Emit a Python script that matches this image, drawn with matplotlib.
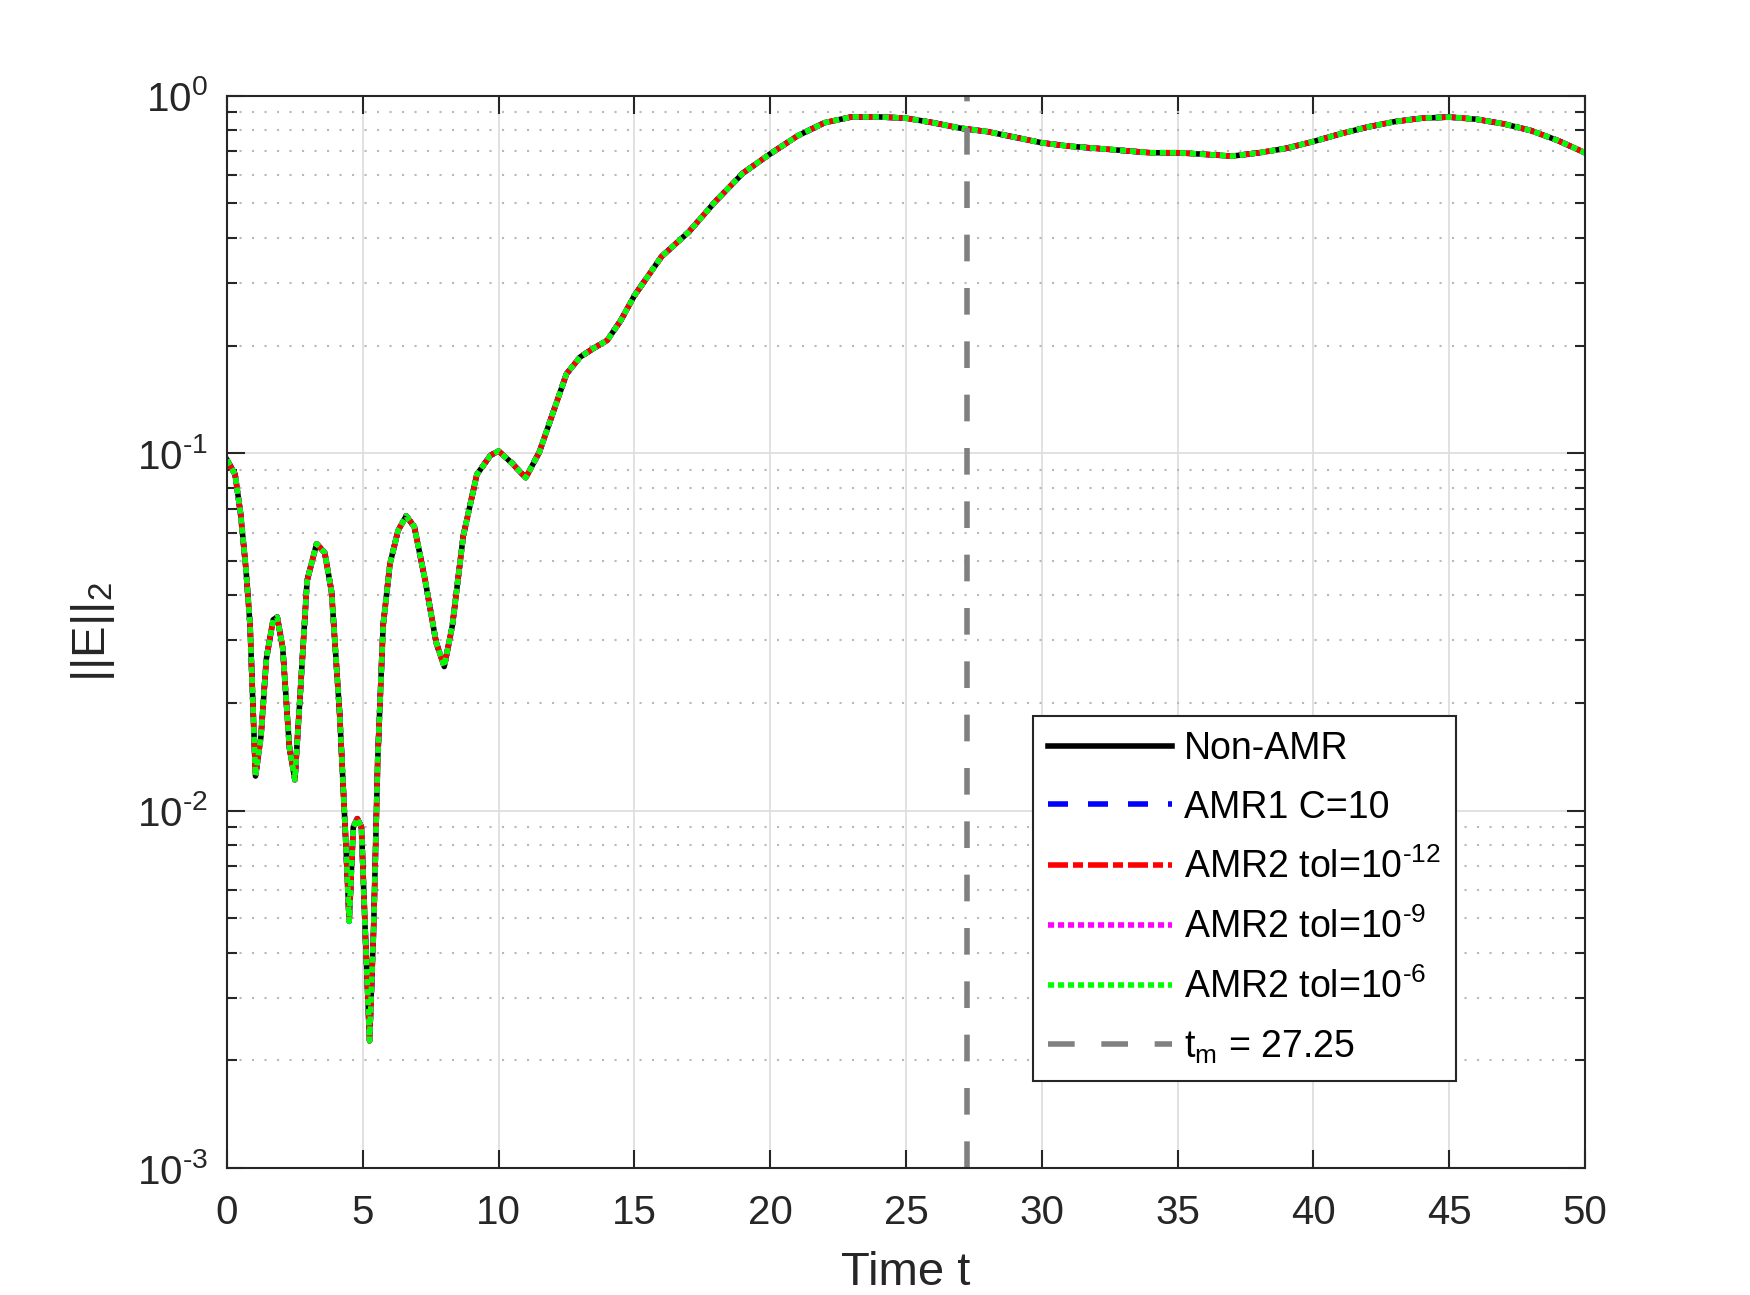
import numpy as np
import matplotlib
matplotlib.use("Agg")
import matplotlib.pyplot as plt
from matplotlib.ticker import LogLocator, FixedLocator, FixedFormatter, NullFormatter

plt.rcParams['font.family'] = ['Liberation Sans', 'DejaVu Sans']
plt.rcParams['mathtext.fontset'] = 'custom'
plt.rcParams['mathtext.rm'] = 'Liberation Sans'
plt.rcParams['mathtext.it'] = 'Liberation Sans'
plt.rcParams['axes.unicode_minus'] = False

# E-Norm über Zeit (alle Verfahren liegen aufeinander)
t = [0.0, 0.3, 0.5, 0.7, 0.85, 1.05, 1.25, 1.45, 1.7, 1.85, 2.05, 2.3, 2.5, 2.7, 2.95,
     3.3, 3.6, 3.85, 4.15, 4.35, 4.5, 4.65, 4.8, 4.95, 5.1, 5.25, 5.4, 5.55, 5.75, 6.0,
     6.3, 6.6, 6.9, 7.3, 7.7, 8.0, 8.3, 8.7, 9.2, 9.7, 10.0, 10.5, 11.0, 11.5, 12.0,
     12.5, 13.0, 13.5, 14.0, 14.5, 15.0, 16.0, 17.0, 18.0, 19.0, 20.0, 21.0, 22.0, 23.0,
     24.0, 25.0, 26.0, 27.0, 28.0, 29.0, 30.0, 31.0, 32.0, 33.0, 34.0, 35.0, 36.0, 37.0,
     38.0, 39.0, 40.0, 41.0, 42.0, 43.0, 44.0, 45.0, 46.0, 47.0, 48.0, 49.0, 50.0]
E = [0.0958, 0.0872, 0.0678, 0.0473, 0.033, 0.0125, 0.0161, 0.0266, 0.0342, 0.0348,
     0.0286, 0.015, 0.0122, 0.0214, 0.044, 0.0558, 0.0527, 0.041, 0.0186, 0.009,
     0.0049, 0.009, 0.0095, 0.009, 0.0044, 0.00227, 0.0047, 0.0139, 0.033, 0.049,
     0.0608, 0.0668, 0.0622, 0.044, 0.0296, 0.0253, 0.033, 0.0587, 0.0872, 0.0986,
     0.1015, 0.0937, 0.0854, 0.1007, 0.1296, 0.1667, 0.1858, 0.1967, 0.207, 0.2354,
     0.276, 0.355, 0.416, 0.508, 0.608, 0.688, 0.772, 0.841, 0.873, 0.873, 0.866,
     0.841, 0.812, 0.794, 0.766, 0.739, 0.723, 0.713, 0.703, 0.693, 0.693, 0.686,
     0.678, 0.693, 0.713, 0.745, 0.783, 0.818, 0.847, 0.866, 0.872, 0.860, 0.835,
     0.800, 0.750, 0.693]
t_m = 27.25

ytick_vals = [1e-3, 1e-2, 1e-1, 1]
ytick_labels = [r"10$^{\text{-3}}$", r"10$^{\text{-2}}$", r"10$^{\text{-1}}$", r"10$^{\text{0}}$"]

labels = ["Non-AMR", "AMR1 C=10", r"AMR2 tol=10$^{\text{-12}}$",
          r"AMR2 tol=10$^{\text{-9}}$", r"AMR2 tol=10$^{\text{-6}}$"]
colors = ["black", "blue", "red", "magenta", "#00ff00"]
dashes = [None, (3.6, 3.6), (3.6, 0.9, 1.8, 0.9), (1.1, 0.7), (1.1, 0.7)]

fig = plt.figure(figsize=(17.5, 12.95), dpi=100)
ax = fig.add_axes([0.1297, 0.098, 0.7760, 0.828])

lw = 4.0
for lab, c, d in zip(labels, colors, dashes):
    line, = ax.plot(t, E, color=c, lw=lw, label=lab)
    if d is not None:
        line.set_dashes(d)

vl = ax.axvline(t_m, color=(0.5, 0.5, 0.5), lw=4.0, label=r"t$_{\text{m}}$ = 27.25")
vl.set_dashes((4.8, 4.8))

ax.set_yscale('log')
ax.set_xlim(0, 50)
ax.set_ylim(1e-3, 1)
ax.set_xticks(np.arange(0, 51, 5))
ax.yaxis.set_major_locator(FixedLocator(ytick_vals))
ax.yaxis.set_major_formatter(FixedFormatter(ytick_labels))
ax.yaxis.set_minor_locator(LogLocator(base=10, subs=np.arange(2, 10), numticks=20))
ax.yaxis.set_minor_formatter(NullFormatter())

dark = (0.15, 0.15, 0.15)
ax.grid(True, which='major', color=(0.87, 0.87, 0.87), lw=1.3)
ax.grid(True, which='minor', axis='y', color=(0.72, 0.72, 0.72), lw=1.5, linestyle=(0, (1, 5)))
ax.set_axisbelow(True)

for s in ax.spines.values():
    s.set_color(dark)
    s.set_linewidth(1.5)
ax.tick_params(which='both', direction='in', top=True, right=True, colors=dark,
               labelsize=29, width=1.5)
ax.tick_params(which='major', length=13, pad=19)
ax.tick_params(axis='y', which='major', pad=14)
ax.tick_params(which='minor', length=7)

ax.set_xlabel("Time t", fontsize=34, color=dark, labelpad=13)
ax.set_ylabel(r"||E||$_{\text{2}}$", fontsize=34, color=dark, labelpad=14)

leg = ax.legend(loc='lower right', bbox_to_anchor=(0.919, 0.064), fontsize=27,
                handlelength=3.3, handletextpad=0.33, labelspacing=0.6,
                borderpad=0.4, fancybox=False, framealpha=1, edgecolor=dark)
leg.get_frame().set_linewidth(1.5)

fig.savefig("out.png", dpi=100, facecolor='white')
